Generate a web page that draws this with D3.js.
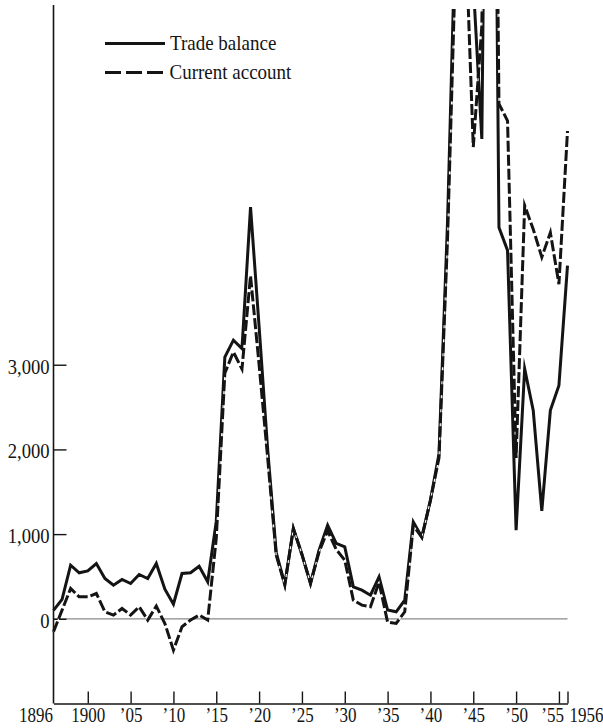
<!DOCTYPE html>
<html><head><meta charset="utf-8">
<script src="https://cdn.jsdelivr.net/npm/d3@7"></script>
<style>body{margin:0;background:#fff}svg{display:block}</style>
</head><body>
<svg id="chart" width="603" height="728"></svg>
<script>
const startYear = 1896;
const seriesNames = ["Trade balance", "Current account"];
const tradeBalance = [
  100, 230, 633, 543, 566, 653, 476, 397, 464, 417,
  523, 476, 653, 350, 173, 535, 543, 620, 437, 1150,
  3090, 3290, 3190, 4860, 3450, 2000, 780, 410, 1066, 760,
  417, 810, 1105, 890, 850, 377, 338, 279, 495, 103,
  83, 220, 1144, 967, 1400, 1950, 4700, 8500, 9000, 7500,
  5665, 16000, 4620, 4350, 1046, 2953, 2461, 1274, 2461, 2756,
  4170
];
const currentAccount = [
  -153, 103, 358, 259, 259, 299, 83, 44, 122, 44,
  142, -15, 150, -55, -370, -94, -15, 44, -15, 950,
  2900, 3150, 2950, 4050, 3000, 1900, 750, 400, 1066, 760,
  417, 790, 1040, 820, 692, 220, 161, 142, 430, -40,
  -55, 83, 1100, 960, 1400, 1900, 4500, 8000, 8400, 5570,
  7000, 16000, 6080, 5880, 1900, 4880, 4600, 4270, 4560, 3950,
  5760
];
const xTickYears = [1900, 1905, 1910, 1915, 1920, 1925, 1930, 1935, 1940, 1945, 1950, 1955, 1956];
const xTickLabels = ["1900", "’05", "’10", "’15", "’20", "’25", "’30", "’35", "’40", "’45", "’50", "’55", "1956"];
const xStartLabel = "1896";
const yTickValues = [0, 1000, 2000, 3000];
const yTickLabels = ["0", "1,000", "2,000", "3,000"];

const FONT = "'Liberation Serif', 'DejaVu Serif', serif";
const INK = "#141414";
const svg = d3.select("#chart");

const x = d3.scaleLinear().domain([1896, 1956]).range([53.5, 567.5]);
const y = d3.scaleLinear().domain([-1000, 7200]).range([703.5, 9]);

const years = tradeBalance.map((_, i) => startYear + i);
const tradeData = years.map((yr, i) => ({year: yr, v: tradeBalance[i]}));
const currData = years.map((yr, i) => ({year: yr, v: currentAccount[i]}));

// clip
svg.append("defs").append("clipPath").attr("id", "plotClip")
  .append("rect").attr("x", 0).attr("y", y(7200)).attr("width", 603).attr("height", 700);

// zero line
svg.append("line")
  .attr("x1", x(1896)).attr("x2", x(1956))
  .attr("y1", y(0)).attr("y2", y(0))
  .attr("stroke", "#8a8a8a").attr("stroke-width", 1.2);

// X axis
const xAxis = d3.axisBottom(x).tickValues(xTickYears).tickSizeInner(-12).tickSizeOuter(0)
  .tickFormat((d, i) => xTickLabels[i]);
const gx = svg.append("g").attr("transform", `translate(0,${y(-1000)})`).call(xAxis);
gx.select(".domain").attr("stroke", INK).attr("stroke-width", 1.6);
gx.selectAll(".tick line").attr("stroke", INK).attr("stroke-width", 1.4);
gx.selectAll(".tick text")
  .attr("fill", INK).attr("font-family", FONT).attr("font-size", 20)
  .attr("y", 18).attr("dy", 0)
  .attr("transform", "scale(0.85,1)")
  .each(function(d, i) {
    const t = d3.select(this);
    if (d === 1956) { t.attr("text-anchor", "start").attr("x", 1.5 / 0.85); }
    else if (d === 1955) { t.attr("text-anchor", "end").attr("x", 4.5 / 0.85); }
  });
// 1896 label at origin
svg.append("g").attr("transform", `translate(${x(1896) - 0.5},${y(-1000) + 18}) scale(0.85,1)`)
  .append("text").attr("text-anchor", "end").attr("font-family", FONT)
  .attr("font-size", 20).attr("fill", INK).text(xStartLabel);

// Y axis
const yAxis = d3.axisLeft(y).tickValues(yTickValues).tickSizeInner(-13).tickSizeOuter(0)
  .tickFormat((d, i) => yTickLabels[i]);
const gy = svg.append("g").attr("transform", `translate(${x(1896)},0)`).call(yAxis);
gy.select(".domain").remove();
gy.append("line").attr("x1", 0).attr("x2", 0).attr("y1", 5).attr("y2", y(-1000))
  .attr("stroke", INK).attr("stroke-width", 1.6);
gy.selectAll(".tick line").attr("stroke", INK).attr("stroke-width", 1.4);
gy.selectAll(".tick text")
  .attr("fill", INK).attr("font-family", FONT).attr("font-size", 20)
  .attr("x", -4 / 0.93).attr("dy", 0).attr("y", 8.5)
  .attr("transform", "scale(0.93,1)");

// lines
const line = d3.line().x(d => x(d.year)).y(d => y(d.v));
const plot = svg.append("g").attr("clip-path", "url(#plotClip)");
plot.append("path").datum(tradeData).attr("d", line)
  .attr("fill", "none").attr("stroke", INK).attr("stroke-width", 3)
  .attr("stroke-linejoin", "miter").attr("stroke-miterlimit", 8);
plot.append("path").datum(currData).attr("d", line)
  .attr("fill", "none").attr("stroke", "#fff").attr("stroke-width", 1.1);
plot.append("path").datum(currData).attr("d", line)
  .attr("fill", "none").attr("stroke", INK).attr("stroke-width", 3)
  .attr("stroke-dasharray", "11,3")
  .attr("stroke-linejoin", "miter").attr("stroke-miterlimit", 8);

// legend
const legend = svg.append("g");
legend.append("line").attr("x1", 105).attr("x2", 165).attr("y1", 43.5).attr("y2", 43.5)
  .attr("stroke", INK).attr("stroke-width", 3);
legend.append("line").attr("x1", 105).attr("x2", 165).attr("y1", 72.5).attr("y2", 72.5)
  .attr("stroke", INK).attr("stroke-width", 3).attr("stroke-dasharray", "16,5");
legend.append("g").attr("transform", "translate(170,49.5) scale(0.95,1)")
  .append("text").attr("font-family", FONT).attr("font-size", 20).attr("fill", INK)
  .text(seriesNames[0]);
legend.append("g").attr("transform", "translate(169.5,79) scale(0.95,1)")
  .append("text").attr("font-family", FONT).attr("font-size", 20).attr("fill", INK)
  .text(seriesNames[1]);
</script>
</body></html>
